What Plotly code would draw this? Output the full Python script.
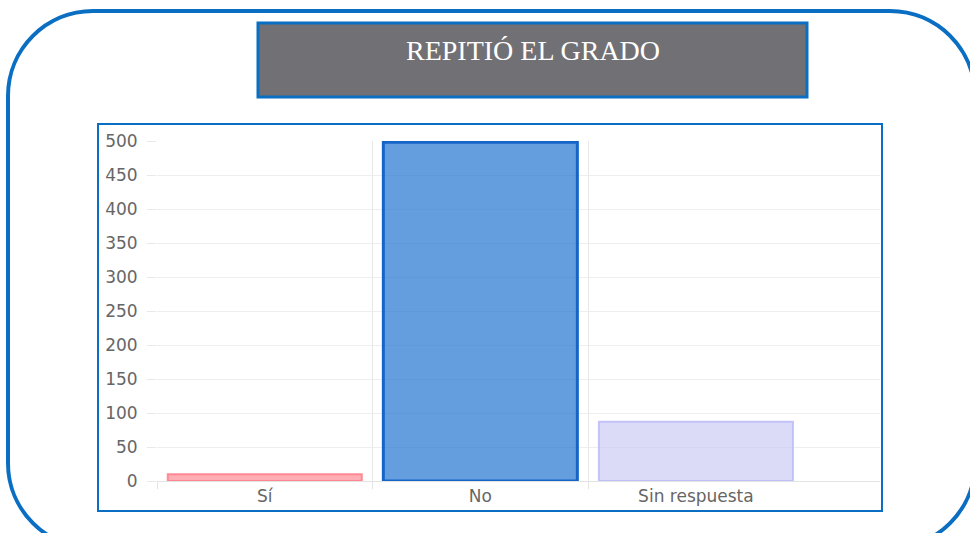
import plotly.graph_objects as go

categories = ["Sí", "No", "Sin respuesta"]
values = [10, 498, 87]
fill_colors = ["rgba(255,120,130,0.6)", "rgba(40,120,210,0.72)", "rgba(200,200,245,0.65)"]
line_colors = ["rgba(255,130,140,0.9)", "#1565c8", "rgba(190,190,250,0.9)"]
y_ticks = [0, 50, 100, 150, 200, 250, 300, 350, 400, 450, 500]
title_text = "REPITIÓ EL GRADO"

W, H = 970, 533
PL, PR, PT, PB = 157, 880, 141, 481  # plot area in pixels
BLUE = "#0a6fc2"

fig = go.Figure()
fig.add_trace(go.Bar(
    x=list(range(len(categories))), y=values, width=0.9,
    marker=dict(color=fill_colors, line=dict(color=line_colors, width=[2, 3, 2])),
    hoverinfo="skip", showlegend=False,
))

def px(x):
    return (x - PL) / (PR - PL)

def py(y):
    return (PB - y) / (PB - PT)

def rounded_path(x0, y0, x1, y1, r):
    k = 0.5523 * r
    def p(x, y):
        return f"{px(x):.5f},{py(y):.5f}"
    return (f"M{p(x0 + r, y0)} L{p(x1 - r, y0)} "
            f"C{p(x1 - r + k, y0)} {p(x1, y0 + r - k)} {p(x1, y0 + r)} "
            f"L{p(x1, y1 - r)} "
            f"C{p(x1, y1 - r + k)} {p(x1 - r + k, y1)} {p(x1 - r, y1)} "
            f"L{p(x0 + r, y1)} "
            f"C{p(x0 + r - k, y1)} {p(x0, y1 - r + k)} {p(x0, y1 - r)} "
            f"L{p(x0, y0 + r)} "
            f"C{p(x0, y0 + r - k)} {p(x0 + r - k, y0)} {p(x0 + r, y0)} Z")

def px_rect(x0, y0, x1, y1):
    return dict(x0=px(x0), x1=px(x1), y0=py(y1), y1=py(y0))

shapes = [
    dict(type="path", xref="paper", yref="paper", path=rounded_path(8, 11, 975, 548, 85),
         line=dict(color=BLUE, width=4), layer="below"),
    dict(type="rect", xref="paper", yref="paper", **px_rect(258, 23, 807, 97),
         fillcolor="#717074", line=dict(color=BLUE, width=3), layer="above"),
    dict(type="rect", xref="paper", yref="paper", **px_rect(98, 124, 882, 511),
         line=dict(color=BLUE, width=2), layer="below"),
]

fig.update_layout(
    width=W, height=H,
    margin=dict(l=PL, r=W - PR, t=PT, b=H - PB, pad=0),
    paper_bgcolor="white", plot_bgcolor="rgba(0,0,0,0)",
    shapes=shapes,
    annotations=[dict(text=title_text, xref="paper", yref="paper",
                      x=px(533), y=py(50), xanchor="center", yanchor="middle",
                      showarrow=False,
                      font=dict(family="Liberation Serif", size=28, color="white"))],
    font=dict(family="DejaVu Sans", size=17, color="#666666"),
    bargap=0.1,
)
fig.update_xaxes(
    range=[-0.5, 2.854], tickvals=list(range(len(categories))), ticktext=categories,
    showgrid=False, ticks="", zeroline=False,
    showline=True, linecolor="#e3e3e3", linewidth=1,
    minor=dict(tickvals=[-0.5, 0.5, 1.5], showgrid=True, gridcolor="#e8e8e8",
               ticks="outside", ticklen=7, tickcolor="#e3e3e3", gridwidth=1),
    tickfont=dict(family="DejaVu Sans", size=17, color="#666666"), fixedrange=True,
)
fig.update_yaxes(
    range=[0, 500], tickvals=y_ticks, showgrid=True, gridcolor="#eeeeee", gridwidth=1,
    ticks="outside", ticklen=9, tickcolor="#e8e8e8", zeroline=False,
    ticklabelstandoff=6, tickfont=dict(family="DejaVu Sans", size=17, color="#666666"),
    fixedrange=True,
)

fig.write_html("out.html", config={"displayModeBar": False},
               post_script="document.body.style.margin='0px';document.body.style.overflow='hidden';")
